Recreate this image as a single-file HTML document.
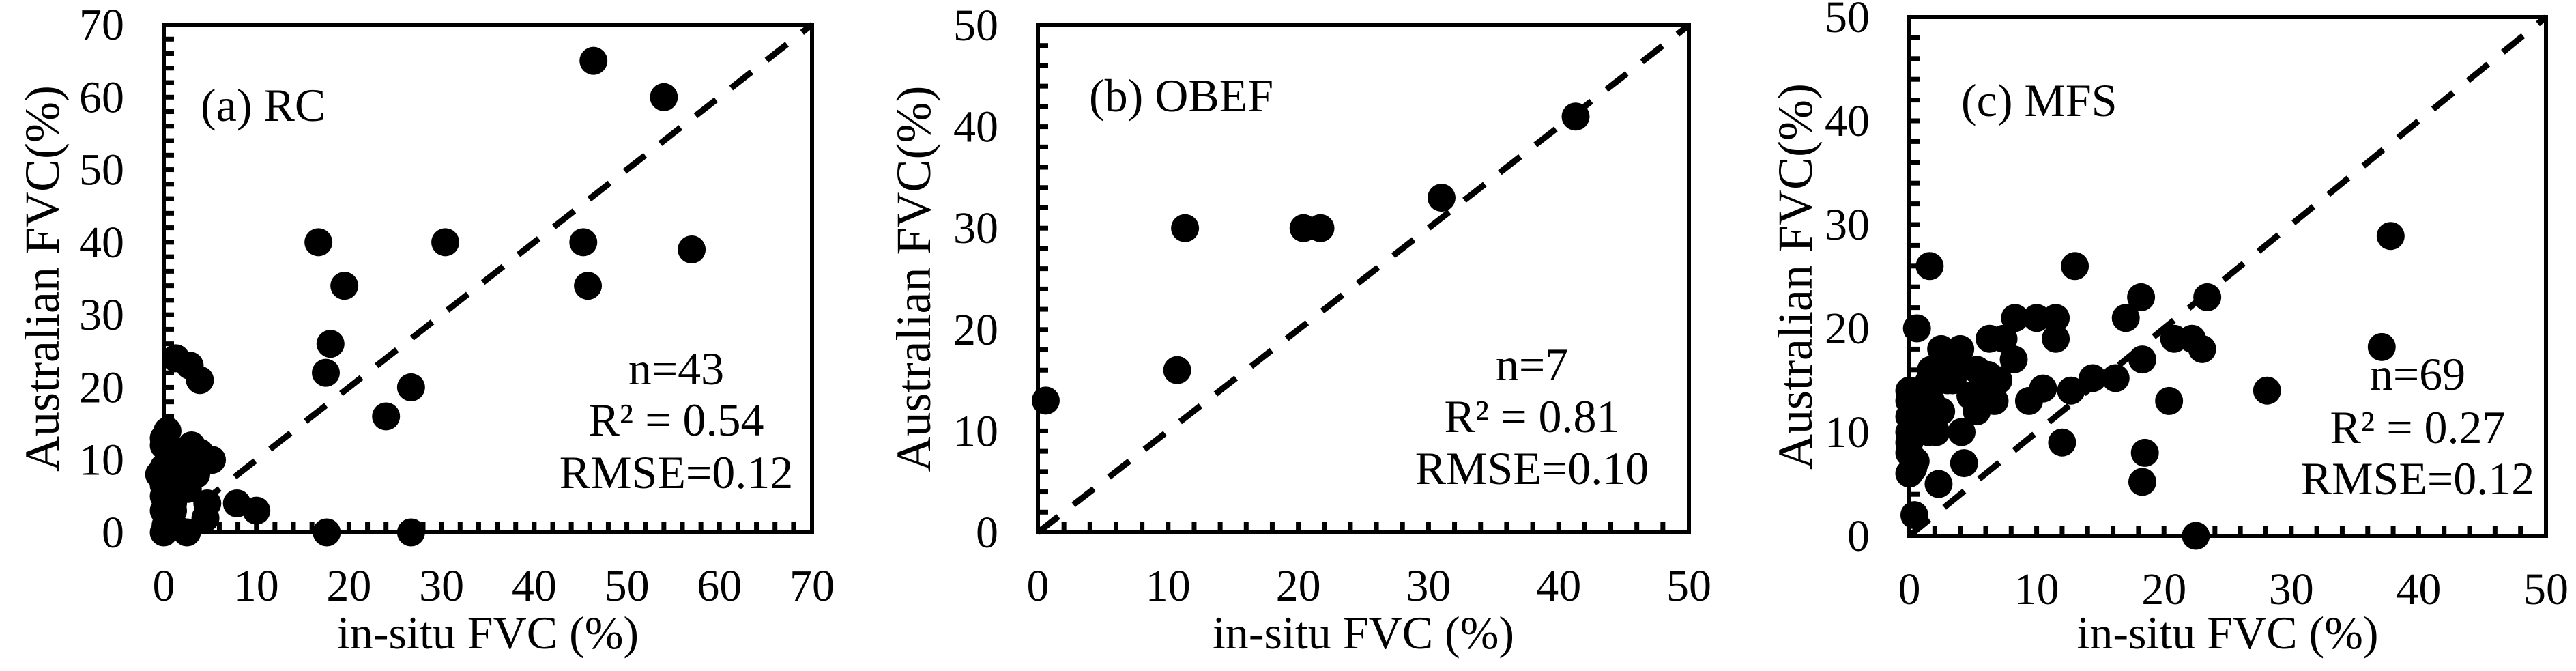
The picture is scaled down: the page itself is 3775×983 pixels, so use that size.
<!DOCTYPE html>
<html><head><meta charset="utf-8"><style>
html,body{margin:0;padding:0;background:#fff;}
svg, svg text{font-family:"Liberation Serif","DejaVu Serif",serif;}
</style></head><body>
<svg id="fig" width="3775" height="978" viewBox="0 0 3775 978" xmlns="http://www.w3.org/2000/svg" font-family="Liberation Serif, serif"></svg>
<script>
const ticksA = [0,10,20,30,40,50,60,70];
const ticksB = [0,10,20,30,40,50];
const ticksC = [0,10,20,30,40,50];
const aX = [46.4,54,16.7,30.4,45.3,57,45.8,19.5,18,17.5,26.7,24,17.6,26.7,7.9,10,1.3,2.8,3.9,4.7,4.5,2.5,0,0.4,0,3,3.9,5.2,0,2,0,2.6,0,0,1,0.6,1.5,0,1.8,-0.5,3.5,0.2,1];
const aY = [65,60,40,40,40,39,34,34,26,22,20,16,0,0,4,3,24,23,21,4,2,0,0,14,12,12,11,10,9,9,6.5,6,5,3,3,10,8,13,11,8,8,1,4];
const bX = [0.6,10.7,11.3,20.4,21.7,31,41.3];
const bY = [13,16,30,30,30,33,41];
const cX = [37.8,37.1,28.1,1.6,13,18.2,23.4,17,8.3,10,11.5,11.5,0.6,6.3,7.4,8.2,18.3,20.8,22.2,23,2.5,4,1.7,5.3,3.4,7,5.9,14.4,16.2,10.5,9.4,12.7,20.4,6.7,5.3,4.1,4.3,12,18.5,18.3,2.3,22.5,0.4,0,0,0.6,1.7,0,1.5,0.4,0,0,1.2,2,0,0.8,2.1,0,1.5,3.4,4.8,0.5,1.8,6.2,2.5,3,6.5,0.3,1];
const cY = [28.9,18.2,14,26,26,23,23,21,21,21,21,19,20,19,19,17,17,19,19,18,18,18,16,16,15,15,14,15.2,15.2,14.2,13,14,13,13,12,10,7,9,8,5.2,5,0,2,14,13,12.4,13,10,10,7,6,8,11,12,11.5,13.5,10,9,14.8,16.5,13.5,7.2,11,15.5,12,15,14,6.5,11.5];

const NS="http://www.w3.org/2000/svg";
const svg=document.getElementById('fig');
function mk(tag,attrs,parent){const e=document.createElementNS(NS,tag);for(const k in attrs)e.setAttribute(k,attrs[k]);(parent||svg).appendChild(e);return e;}
const FF='Liberation Serif, serif';

function panel(cfg){
  const g=mk('g',{});
  
  
  const L=cfg.L,R=cfg.R,T=cfg.T,B=cfg.B,max=cfg.max;
  const sx=v=>L+(v/max)*(R-L);
  const sy=v=>B-(v/max)*(B-T);
  for(let v=2;v<max;v+=2){
    const t1=mk('line',{x1:sx(v),y1:B,x2:sx(v),y2:B-15,stroke:'#000','stroke-width':7},g);
    
    
    const t2=mk('line',{x1:L,y1:sy(v),x2:L+15,y2:sy(v),stroke:'#000','stroke-width':7},g);
    
    
  }
  const box=mk('rect',{x:L,y:T,width:R-L,height:B-T,fill:'none',stroke:'#000','stroke-width':6},g);
  
  
  const dl=mk('line',{x1:sx(0),y1:sy(0),x2:sx(max),y2:sy(max),stroke:'#000','stroke-width':9,'stroke-dasharray':'38 28'},g);
  
  
  cfg.ticks.forEach(v=>{
    const tx=mk('text',{x:sx(v),y:B+100,'font-size':66,'text-anchor':'middle','font-family':FF},g);
    tx.textContent=v;
    
    
    const ty=mk('text',{x:L-58,y:sy(v)+22,'font-size':66,'text-anchor':'end','font-family':FF},g);
    ty.textContent=v;
    
    
  });
  cfg.xs.forEach((x,i)=>{
    const c=mk('circle',{cx:sx(x),cy:sy(cfg.ys[i]),r:20.5,fill:'#000'},g);
    
    
  });
  const xt=mk('text',{x:(L+R)/2,y:950,'font-size':68,'text-anchor':'middle','font-family':FF},g);
  xt.textContent='in-situ FVC (%)';
  
  
  const yt=mk('text',{x:0,y:0,'font-size':72,'text-anchor':'middle','font-family':FF,transform:`translate(${cfg.yTitleX},${(T+B)/2}) rotate(-90)`},g);
  yt.textContent='Australian FVC(%)';
  
  
  const lab=mk('text',{x:cfg.labX,y:cfg.labY,'font-size':68,'font-family':FF},g);
  lab.textContent=cfg.label;
  
  
  cfg.stats.forEach((s,i)=>{
    const st=mk('text',{x:cfg.statX,y:cfg.statY[i],'font-size':68,'text-anchor':'middle','font-family':FF},g);
    st.textContent=s;
    
    
  });
}
panel({name:'panel-a-rc',L:240,R:1190,T:36,B:780,max:70,ticks:ticksA,xs:aX,ys:aY,yTitleX:86,label:'(a) RC',labX:294,labY:177,stats:['n=43','R² = 0.54','RMSE=0.12'],statX:991,statY:[563,638,715]});
panel({name:'panel-b-obef',L:1521,R:2475,T:37,B:780,max:50,ticks:ticksB,xs:bX,ys:bY,yTitleX:1363,label:'(b) OBEF',labX:1596,labY:163,stats:['n=7','R² = 0.81','RMSE=0.10'],statX:2245,statY:[557,633,709]});
panel({name:'panel-c-mfs',L:2798,R:3731,T:25,B:785,max:50,ticks:ticksC,xs:cX,ys:cY,yTitleX:2655,label:'(c) MFS',labX:2874,labY:170,stats:['n=69','R² = 0.27','RMSE=0.12'],statX:3543,statY:[571,649,724]});
</script>
</body></html>
